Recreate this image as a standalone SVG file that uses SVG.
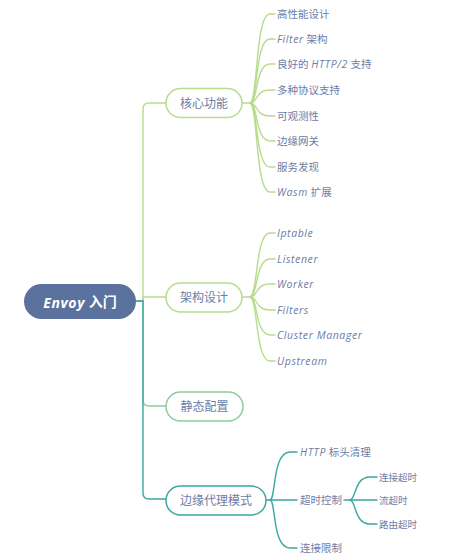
<svg xmlns="http://www.w3.org/2000/svg" width="454" height="559" viewBox="0 0 454 559">
<style>
text{font-family:"Open Sans","Noto Sans CJK SC",sans-serif;fill:#6b7da6;dominant-baseline:central}
.lat{font-style:italic;letter-spacing:0.6px}
.t1{font-size:12px}
.t2{font-size:10.5px}
.t3{font-size:9.5px}
.node{fill:#fff;stroke-width:1.5}
.g{stroke:#b7dc8e}
.s{stroke:#8fcc9f}
.e{stroke:#3ba7a1}
.c{fill:none;stroke-width:1.4;stroke-linecap:round}
</style>
<rect width="454" height="559" fill="#fff"/>
<g id="connectors">
<path class="c g" d="M136,301 H143 V109 Q143,103 149,103 H166"/>
<path class="c g" d="M136,301 H143 V297 H166"/>
<path class="c s" d="M136,301 H143 V400 Q143,406 149,406 H166"/>
<path class="c e" d="M136,301 H143 V493 Q143,499 149,499 H166"/>
<g class="c g">
<path d="M242,103 H250 C258,103 255,14 270,14 H275"/>
<path d="M250,103 C258,103 255,39 270,39 H275"/>
<path d="M250,103 C258,103 255,64 270,64 H275"/>
<path d="M250,103 C258,103 255,90 270,90 H275"/>
<path d="M250,103 C258,103 255,116 270,116 H275"/>
<path d="M250,103 C258,103 255,141 270,141 H275"/>
<path d="M250,103 C258,103 255,167 270,167 H275"/>
<path d="M250,103 C258,103 255,192 270,192 H275"/>
<path d="M242,297 H250 C258,297 255,233 270,233 H275"/>
<path d="M250,297 C258,297 255,259 270,259 H275"/>
<path d="M250,297 C258,297 255,284 270,284 H275"/>
<path d="M250,297 C258,297 255,310 270,310 H275"/>
<path d="M250,297 C258,297 255,335 270,335 H275"/>
<path d="M250,297 C258,297 255,361 270,361 H275"/>
</g>
<g class="c e">
<path d="M266,500 H297"/>
<path d="M270,500 C276,500 272,452 290,452 H297"/>
<path d="M270,500 C276,500 272,548 290,548 H297"/>
<path d="M344,500 H377"/>
<path d="M350,500 C356,500 354,477 370,477 H377"/>
<path d="M350,500 C356,500 354,524 370,524 H377"/>
</g>
</g>
<g id="root">
<rect x="24" y="284" width="112" height="35" rx="17.5" fill="#5a729d"/>
<text x="80" y="301.5" text-anchor="middle" style="fill:#fff;font-size:14px;font-weight:bold"><tspan class="lat">Envoy</tspan> 入门</text>
</g>
<g id="core">
<rect class="node g" x="166" y="88.5" width="76" height="29" rx="14.5"/>
<text class="t1" x="204" y="103" text-anchor="middle">核心功能</text>
</g>
<g id="core-1"><text class="t2" x="277" y="14">高性能设计</text></g>
<g id="core-2"><text class="t2" x="277" y="39"><tspan class="lat">Filter</tspan> 架构</text></g>
<g id="core-3"><text class="t2" x="277" y="64">良好的 <tspan class="lat">HTTP/2</tspan> 支持</text></g>
<g id="core-4"><text class="t2" x="277" y="90">多种协议支持</text></g>
<g id="core-5"><text class="t2" x="277" y="116">可观测性</text></g>
<g id="core-6"><text class="t2" x="277" y="141">边缘网关</text></g>
<g id="core-7"><text class="t2" x="277" y="167">服务发现</text></g>
<g id="core-8"><text class="t2" x="277" y="192"><tspan class="lat">Wasm</tspan> 扩展</text></g>
<g id="arch">
<rect class="node g" x="166" y="283" width="76" height="29" rx="14.5"/>
<text class="t1" x="204" y="297.5" text-anchor="middle">架构设计</text>
</g>
<g id="arch-1"><text class="t2 lat" x="277" y="233">Iptable</text></g>
<g id="arch-2"><text class="t2 lat" x="277" y="259">Listener</text></g>
<g id="arch-3"><text class="t2 lat" x="277" y="284">Worker</text></g>
<g id="arch-4"><text class="t2 lat" x="277" y="310">Filters</text></g>
<g id="arch-5"><text class="t2 lat" x="277" y="335">Cluster Manager</text></g>
<g id="arch-6"><text class="t2 lat" x="277" y="361">Upstream</text></g>
<g id="static">
<rect class="node s" x="166" y="392" width="77" height="29" rx="14.5"/>
<text class="t1" x="204.5" y="406.5" text-anchor="middle">静态配置</text>
</g>
<g id="edge">
<rect class="node e" x="166" y="486" width="100" height="29" rx="14.5"/>
<text class="t1" x="216" y="500.5" text-anchor="middle">边缘代理模式</text>
</g>
<g id="edge-1"><text class="t2" x="300" y="452"><tspan class="lat">HTTP</tspan> 标头清理</text></g>
<g id="edge-2"><text class="t2" x="300" y="500">超时控制</text></g>
<g id="edge-3"><text class="t2" x="300" y="548">连接限制</text></g>
<g id="to-1"><text class="t3" x="379" y="477">连接超时</text></g>
<g id="to-2"><text class="t3" x="379" y="500">流超时</text></g>
<g id="to-3"><text class="t3" x="379" y="524">路由超时</text></g>
</svg>
